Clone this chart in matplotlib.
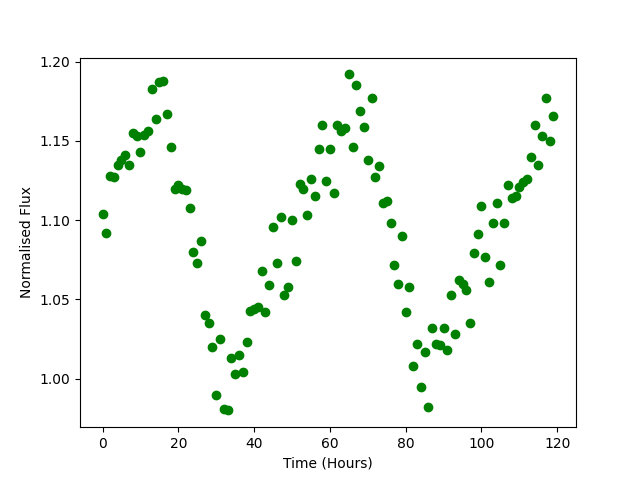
import numpy as np
import matplotlib
matplotlib.use("Agg")
import matplotlib.pyplot as plt

# Hourly flux readings
time_hours = np.arange(0, 120)
flux = [
    1.104, 1.092, 1.128, 1.127, 1.135, 1.138, 1.141, 1.135, 1.155, 1.153,
    1.143, 1.154, 1.156, 1.183, 1.164, 1.187, 1.188, 1.167, 1.146, 1.120,
    1.122, 1.120, 1.119, 1.108, 1.080, 1.073, 1.087, 1.040, 1.035, 1.020,
    0.990, 1.025, 0.981, 0.980, 1.013, 1.003, 1.015, 1.004, 1.023, 1.043,
    1.044, 1.045, 1.068, 1.042, 1.059, 1.096, 1.073, 1.102, 1.053, 1.058,
    1.100, 1.074, 1.123, 1.120, 1.103, 1.126, 1.115, 1.145, 1.160, 1.125,
    1.145, 1.117, 1.160, 1.156, 1.158, 1.192, 1.146, 1.185, 1.169, 1.159,
    1.138, 1.177, 1.127, 1.134, 1.111, 1.112, 1.098, 1.072, 1.060, 1.090,
    1.042, 1.058, 1.008, 1.022, 0.995, 1.017, 0.982, 1.032, 1.022, 1.021,
    1.032, 1.018, 1.053, 1.028, 1.062, 1.060, 1.056, 1.035, 1.079, 1.091,
    1.109, 1.077, 1.061, 1.098, 1.111, 1.072, 1.098, 1.122, 1.114, 1.115,
    1.121, 1.124, 1.126, 1.140, 1.160, 1.135, 1.153, 1.177, 1.150, 1.166,
]

plt.figure(figsize=(6.4, 4.8), dpi=100)
plt.plot(time_hours, flux, 'o', color='green')
plt.xlabel("Time (Hours)")
plt.ylabel("Normalised Flux")
plt.savefig("out.png")
